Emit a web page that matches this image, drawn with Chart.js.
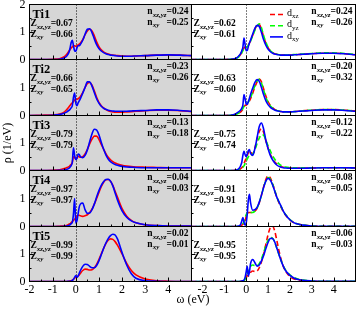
<!DOCTYPE html>
<html>
<head>
<meta charset="utf-8">
<script src="https://cdn.jsdelivr.net/npm/chart.js@4.4.1/dist/chart.umd.min.js"></script>
<style>
  html, body { margin: 0; padding: 0; background: #fff; }
  #wrap { position: relative; width: 356px; height: 311px; overflow: hidden; }
  #wrap canvas { position: absolute; left: 0; top: 0; }
</style>
</head>
<body>
<div id="wrap"></div>
<script>
// omega grid (eV), shared by every curve
const omega = [-2.5,-2,-1.5,-1,-0.7,-0.5,-0.4,-0.3,-0.25,-0.2,-0.15,-0.1,-0.05,0,0.05,0.1,0.15,0.2,0.3,0.4,
  0.5,0.6,0.7,0.8,0.9,1.0,1.1,1.2,1.3,1.4,1.5,1.6,1.7,1.8,2.0,2.2,2.4,2.6,3.0,3.5,4.0,4.5,5.0];
const xTicks = [-2, -1, 0, 1, 2, 3, 4];
const siteNames = ['Ti1', 'Ti2', 'Ti3', 'Ti4', 'Ti5'];

// left column: xz,yz (red) and xy (blue)
const ti1L_xzyz = [0,0,0,0.01,0.03,0.1,0.18,0.3,0.36,0.42,0.46,0.5,0.5,0.48,0.5,0.53,0.56,0.6,0.72,0.9,1.04,1.1,1.04,0.86,0.64,0.47,0.35,0.28,0.23,0.2,0.17,0.16,0.15,0.14,0.13,0.12,0.12,0.13,0.14,0.16,0.17,0.16,0.14];
const ti1L_xy   = [0,0,0,0,0.01,0.06,0.12,0.25,0.4,0.62,0.7,0.5,0.32,0.3,0.42,0.5,0.5,0.55,0.7,0.92,1.1,1.12,0.98,0.75,0.54,0.4,0.31,0.25,0.21,0.18,0.16,0.15,0.14,0.13,0.12,0.12,0.12,0.13,0.14,0.16,0.17,0.16,0.14];
const ti2L_xzyz = [0,0,0.01,0.02,0.05,0.12,0.2,0.3,0.36,0.41,0.45,0.5,0.55,0.57,0.58,0.6,0.63,0.68,0.82,1.0,1.14,1.18,1.08,0.88,0.65,0.47,0.35,0.27,0.21,0.17,0.14,0.13,0.12,0.12,0.12,0.13,0.14,0.15,0.17,0.19,0.19,0.17,0.14];
const ti2L_xy   = [0,0,0,0.01,0.03,0.08,0.12,0.18,0.22,0.27,0.35,0.65,0.8,0.45,0.35,0.45,0.52,0.6,0.8,1.0,1.2,1.2,1.05,0.82,0.6,0.44,0.33,0.26,0.22,0.19,0.17,0.16,0.15,0.15,0.15,0.15,0.16,0.17,0.18,0.2,0.2,0.18,0.15];
const ti3L_xzyz = [0,0,0,0.01,0.03,0.07,0.1,0.14,0.18,0.22,0.3,0.5,0.48,0.42,0.45,0.52,0.5,0.48,0.5,0.6,0.77,0.97,1.14,1.25,1.25,1.13,0.95,0.78,0.61,0.48,0.39,0.32,0.27,0.24,0.19,0.16,0.14,0.13,0.12,0.11,0.1,0.1,0.1];
const ti3L_xy   = [0,0,0,0,0.01,0.02,0.04,0.08,0.12,0.18,0.3,0.83,0.55,0.4,0.45,0.6,0.58,0.5,0.47,0.55,0.75,1.05,1.33,1.5,1.47,1.3,1.03,0.78,0.57,0.42,0.32,0.26,0.22,0.19,0.15,0.13,0.12,0.11,0.1,0.1,0.1,0.1,0.1];
const ti4L_xzyz = [0,0,0,0,0.01,0.02,0.04,0.08,0.1,0.14,0.18,0.22,0.26,0.3,0.36,0.4,0.4,0.38,0.36,0.38,0.42,0.5,0.62,0.8,1.0,1.22,1.42,1.58,1.67,1.68,1.62,1.47,1.26,1.05,0.64,0.37,0.22,0.13,0.06,0.03,0.02,0.02,0.02];
const ti4L_xy   = [0,0,0,0,0,0.01,0.02,0.04,0.06,0.1,0.15,0.45,1.0,0.12,0.2,0.45,0.7,0.8,0.84,0.6,0.47,0.48,0.6,0.8,1.05,1.28,1.47,1.6,1.68,1.69,1.62,1.45,1.2,0.95,0.56,0.33,0.2,0.13,0.06,0.03,0.02,0.02,0.02];
const ti5L_xzyz = [0,0,0,0,0,0,0,0.01,0.02,0.03,0.05,0.08,0.12,0.15,0.17,0.2,0.24,0.3,0.4,0.45,0.44,0.42,0.43,0.5,0.62,0.8,1.0,1.2,1.38,1.5,1.55,1.53,1.45,1.32,1.0,0.66,0.4,0.24,0.09,0.03,0.01,0,0];
const ti5L_xy   = [0,0,0,0,0,0,0,0.01,0.01,0.02,0.04,0.08,0.15,0.22,0.15,0.2,0.3,0.4,0.55,0.63,0.62,0.55,0.5,0.5,0.58,0.75,0.97,1.2,1.4,1.56,1.67,1.72,1.69,1.55,1.05,0.6,0.28,0.12,0.03,0.01,0,0,0];

// right column: d_xz (red), d_yz (green), d_xy (blue)
const ti1R_xz = [0,0,0,0,0.01,0.03,0.07,0.14,0.19,0.26,0.34,0.42,0.45,0.43,0.45,0.52,0.6,0.68,0.88,1.1,1.25,1.27,1.1,0.82,0.6,0.43,0.32,0.25,0.21,0.19,0.17,0.16,0.16,0.16,0.16,0.17,0.18,0.19,0.21,0.23,0.23,0.21,0.17];
const ti1R_yz = [0,0,0,0,0.01,0.03,0.06,0.12,0.17,0.24,0.32,0.4,0.44,0.44,0.46,0.52,0.59,0.67,0.86,1.07,1.22,1.3,1.15,0.86,0.63,0.45,0.33,0.26,0.22,0.19,0.17,0.16,0.16,0.16,0.17,0.18,0.19,0.2,0.22,0.24,0.24,0.22,0.18];
const ti1R_xy = [0,0,0,0,0.01,0.04,0.08,0.16,0.22,0.32,0.45,0.78,0.55,0.32,0.33,0.48,0.6,0.7,0.93,1.13,1.24,1.2,0.98,0.72,0.52,0.38,0.29,0.23,0.2,0.18,0.17,0.16,0.16,0.16,0.16,0.17,0.18,0.19,0.21,0.23,0.23,0.21,0.17];
const ti2R_xz = [0,0,0,0,0.01,0.03,0.06,0.1,0.13,0.17,0.22,0.3,0.36,0.38,0.4,0.45,0.52,0.6,0.8,1.02,1.2,1.3,1.2,0.95,0.7,0.5,0.37,0.28,0.22,0.18,0.16,0.14,0.13,0.13,0.13,0.14,0.15,0.17,0.19,0.21,0.21,0.19,0.16];
const ti2R_yz = [0,0,0,0,0.01,0.03,0.06,0.11,0.14,0.19,0.25,0.33,0.38,0.4,0.43,0.48,0.55,0.63,0.84,1.06,1.23,1.29,1.16,0.9,0.66,0.47,0.35,0.27,0.21,0.18,0.16,0.14,0.13,0.13,0.13,0.14,0.15,0.17,0.19,0.21,0.21,0.19,0.16];
const ti2R_xy = [0,0,0,0,0.01,0.05,0.1,0.16,0.2,0.26,0.38,0.75,0.6,0.42,0.4,0.5,0.62,0.75,0.98,1.18,1.28,1.22,1.0,0.74,0.53,0.39,0.3,0.24,0.2,0.17,0.15,0.14,0.13,0.13,0.13,0.14,0.15,0.16,0.18,0.2,0.2,0.18,0.15];
const ti3R_xz = [0,0,0,0,0,0.01,0.02,0.04,0.07,0.1,0.16,0.25,0.35,0.45,0.55,0.65,0.72,0.68,0.6,0.82,1.15,1.42,1.52,1.38,1.08,0.82,0.6,0.44,0.32,0.24,0.18,0.14,0.12,0.1,0.09,0.09,0.09,0.09,0.09,0.1,0.1,0.1,0.09];
const ti3R_yz = [0,0,0,0,0,0.01,0.02,0.03,0.05,0.08,0.12,0.17,0.25,0.33,0.42,0.5,0.55,0.55,0.6,0.75,0.98,1.18,1.3,1.28,1.1,0.9,0.72,0.55,0.42,0.32,0.24,0.18,0.15,0.13,0.11,0.1,0.1,0.1,0.1,0.1,0.1,0.1,0.09];
const ti3R_xy = [0,0,0,0,0,0.01,0.03,0.1,0.18,0.3,0.55,0.7,0.58,0.5,0.6,0.72,0.76,0.62,0.55,0.8,1.2,1.6,1.73,1.5,1.1,0.8,0.56,0.4,0.28,0.2,0.15,0.12,0.1,0.09,0.08,0.08,0.08,0.08,0.09,0.1,0.1,0.1,0.09];
const ti4R_xz = [0,0,0,0,0,0,0,0.01,0.02,0.05,0.08,0.12,0.2,0.35,0.45,0.5,0.5,0.5,0.5,0.55,0.65,0.85,1.12,1.42,1.68,1.81,1.74,1.55,1.3,1.05,0.85,0.68,0.53,0.41,0.24,0.13,0.08,0.05,0.02,0.01,0.01,0.01,0.01];
const ti4R_yz = [0,0,0,0,0,0,0,0.01,0.02,0.05,0.1,0.18,0.3,0.42,0.48,0.52,0.52,0.5,0.5,0.55,0.66,0.86,1.12,1.4,1.64,1.75,1.7,1.53,1.3,1.06,0.87,0.7,0.55,0.43,0.25,0.14,0.08,0.05,0.02,0.01,0.01,0.01,0.01];
const ti4R_xy = [0,0,0,0,0,0,0.01,0.03,0.08,0.2,0.32,0.15,0.05,0.12,0.45,0.95,1.15,0.85,0.58,0.6,0.68,0.87,1.12,1.4,1.62,1.72,1.66,1.5,1.28,1.05,0.88,0.72,0.55,0.42,0.24,0.13,0.08,0.05,0.02,0.01,0.01,0.01,0.01];
const ti5R_xz = [0,0,0,0,0,0,0,0,0,0.01,0.01,0.02,0.05,0.12,0.22,0.2,0.25,0.33,0.38,0.36,0.38,0.5,0.72,1.0,1.35,1.7,1.95,2.02,1.85,1.5,1.12,0.8,0.55,0.38,0.18,0.09,0.05,0.03,0.01,0,0,0,0];
const ti5R_yz = [0,0,0,0,0,0,0,0,0.01,0.02,0.02,0.03,0.08,0.2,0.3,0.35,0.45,0.55,0.6,0.58,0.58,0.65,0.82,1.05,1.3,1.5,1.6,1.58,1.45,1.22,0.98,0.76,0.57,0.42,0.24,0.14,0.08,0.05,0.02,0.01,0.01,0.01,0.01];
const ti5R_xy = [0,0,0,0,0,0,0,0,0.01,0.02,0.03,0.05,0.15,0.35,0.55,0.2,0.35,0.65,0.8,0.68,0.56,0.6,0.75,0.95,1.2,1.42,1.56,1.57,1.45,1.22,0.98,0.75,0.55,0.4,0.22,0.12,0.07,0.04,0.02,0.01,0.01,0.01,0.01];

// quasiparticle weights and occupations printed in each panel
const zXzYzLeft  = ['0.67', '0.66', '0.79', '0.97', '0.99'];
const zXyLeft    = ['0.66', '0.65', '0.79', '0.97', '0.99'];
const nXzYzLeft  = ['0.24', '0.23', '0.13', '0.04', '0.02'];
const nXyLeft    = ['0.25', '0.26', '0.18', '0.03', '0.01'];
const zXzYzRight = ['0.62', '0.63', '0.75', '0.91', '0.95'];
const zXyRight   = ['0.61', '0.60', '0.74', '0.91', '0.95'];
const nXzYzRight = ['0.24', '0.20', '0.12', '0.08', '0.06'];
const nXyRight   = ['0.26', '0.32', '0.22', '0.05', '0.03'];

const W = 356, H = 311;
const SERIF = '"Liberation Serif", "DejaVu Serif", serif';
const RED = '#ff0000', GREEN = '#00ff00', BLUE = '#0000ff';

const leftSeries = [[ti1L_xy, ti1L_xzyz], [ti2L_xy, ti2L_xzyz], [ti3L_xy, ti3L_xzyz], [ti4L_xy, ti4L_xzyz], [ti5L_xy, ti5L_xzyz]];
const rightSeries = [[ti1R_xy, ti1R_yz, ti1R_xz], [ti2R_xy, ti2R_yz, ti2R_xz], [ti3R_xy, ti3R_yz, ti3R_xz],
  [ti4R_xy, ti4R_yz, ti4R_xz], [ti5R_xy, ti5R_yz, ti5R_xz]];

function rowTop(i) { return Math.round(4 + 55.4 * i) + 0.5; }

function pts(arr) { return omega.map((w, i) => ({ x: w, y: arr[i] })); }

// text with a subscript, returns total width
function subText(ctx, x, y, main, sub, size, normal) {
  ctx.font = (normal ? '' : 'bold ') + size + 'px ' + SERIF;
  ctx.fillText(main, x, y);
  const w1 = ctx.measureText(main).width;
  ctx.font = (normal ? '' : 'italic bold ') + Math.round(size * 0.7) + 'px ' + SERIF;
  ctx.fillText(sub, x + w1, y + size * 0.3);
  return w1 + ctx.measureText(sub).width;
}

function makeDeco(p) {
  return {
    id: 'deco',
    beforeDraw(chart) {
      const a = chart.chartArea, ctx = chart.ctx;
      if (p.col === 0) {
        ctx.save();
        ctx.fillStyle = '#d6d6d6';
        ctx.fillRect(a.left, a.top, a.right - a.left, a.bottom - a.top);
        ctx.restore();
      }
    },
    beforeDatasetsDraw(chart) {
      const a = chart.chartArea, ctx = chart.ctx;
      const x = Math.round(chart.scales.x.getPixelForValue(0)) + 0.5;
      ctx.save();
      ctx.strokeStyle = '#000';
      ctx.lineWidth = 1;
      ctx.setLineDash([1, 2]);
      ctx.beginPath();
      ctx.moveTo(x, a.top);
      ctx.lineTo(x, a.bottom);
      ctx.stroke();
      ctx.restore();
    },
    afterDatasetsDraw(chart) {
      const a = chart.chartArea, ctx = chart.ctx;
      const sx = chart.scales.x, sy = chart.scales.y;
      ctx.save();
      ctx.strokeStyle = '#000';
      ctx.lineWidth = 1;
      ctx.beginPath();
      // inward ticks on the bottom edge
      for (let v = Math.ceil(p.xmin * 2) / 2; v < p.xmax; v += 0.5) {
        const x = Math.round(sx.getPixelForValue(v)) + 0.5;
        if (x <= a.left + 1 || x >= a.right - 1) continue;
        const len = Number.isInteger(v) ? 4 : 2;
        ctx.moveTo(x, a.bottom);
        ctx.lineTo(x, a.bottom - len);
      }
      // inward ticks on the left edge
      [0.5, 1, 1.5].forEach(v => {
        const y = Math.round(sy.getPixelForValue(v)) + 0.5;
        const len = Number.isInteger(v) ? 4 : 2;
        ctx.moveTo(a.left, y);
        ctx.lineTo(a.left + len, y);
      });
      ctx.stroke();
      ctx.strokeRect(a.left, a.top, a.right - a.left, a.bottom - a.top);

      ctx.fillStyle = '#000';
      ctx.textBaseline = 'middle';
      // y tick labels
      if (p.col === 0) {
        ctx.font = '12px ' + SERIF;
        ctx.textAlign = 'right';
        const ys = p.row === 0 ? [0, 1, 2] : [0, 1];
        ys.forEach(v => ctx.fillText(String(v), a.left - 4, sy.getPixelForValue(v)));
      }
      // x tick labels
      if (p.row === 4) {
        ctx.font = '12px ' + SERIF;
        ctx.textAlign = 'center';
        xTicks.forEach(v => ctx.fillText(String(v), sx.getPixelForValue(v), a.bottom + 8));
      }
      ctx.textAlign = 'left';
      // site name
      if (p.col === 0) {
        ctx.font = 'bold 12.5px ' + SERIF;
        ctx.fillText(siteNames[p.row], a.left + 3, a.top + 10);
      }
      // Z values
      const zx = a.left + (p.col === 0 ? 1 : 2);
      const wz = subText(ctx, zx, a.top + 19.5, 'Z', 'xz,yz', 9.5);
      ctx.font = 'bold 9.5px ' + SERIF;
      ctx.fillText('=' + p.z[0], zx + wz, a.top + 19.5);
      subText(ctx, zx, a.top + 30, 'Z', 'xy', 9.5);
      ctx.font = 'bold 9.5px ' + SERIF;
      ctx.fillText('=' + p.z[1], zx + wz, a.top + 30);
      // n values
      const right = a.right - 3;
      ctx.font = 'bold 9.5px ' + SERIF;
      const v1 = '=' + p.n[0], v2 = '=' + p.n[1];
      const wv = ctx.measureText(v1).width;
      ctx.font = 'bold 9.5px ' + SERIF;
      const wn = ctx.measureText('n').width;
      ctx.font = 'italic bold 7px ' + SERIF;
      const ws = ctx.measureText('xz,yz').width;
      const nx = right - wv - wn - ws;
      subText(ctx, nx, a.top + 7.5, 'n', 'xz,yz', 9.5);
      ctx.font = 'bold 9.5px ' + SERIF;
      ctx.textAlign = 'right';
      ctx.fillText(v1, right, a.top + 7.5);
      ctx.fillText(v2, right, a.top + 18);
      ctx.textAlign = 'left';
      subText(ctx, nx, a.top + 18, 'n', 'xy', 9.5);

      // legend in the first right panel
      if (p.col === 1 && p.row === 0) {
        const items = [['xz', RED, [5, 3]], ['yz', GREEN, [5, 3]], ['xy', BLUE, []]];
        items.forEach((it, k) => {
          const y = a.top + 10 + k * 11.2;
          ctx.strokeStyle = it[1];
          ctx.lineWidth = 1.6;
          ctx.setLineDash(it[2]);
          ctx.beginPath();
          ctx.moveTo(270, y);
          ctx.lineTo(283, y);
          ctx.stroke();
          ctx.setLineDash([]);
          ctx.fillStyle = '#000';
          subText(ctx, 287, y - 1, 'd', it[0], 10, true);
        });
      }

      // axis titles, drawn once
      if (p.col === 0 && p.row === 4) {
        ctx.fillStyle = '#000';
        ctx.font = '12px ' + SERIF;
        ctx.textAlign = 'center';
        ctx.fillText('\u03c9 (eV)', 193, 300);
        ctx.save();
        ctx.translate(8, 143);
        ctx.rotate(-Math.PI / 2);
        ctx.fillText('\u03c1 (1/eV)', 0, 0);
        ctx.restore();
      }
      ctx.restore();
    }
  };
}

const wrap = document.getElementById('wrap');
for (let col = 0; col < 2; col++) {
  for (let row = 0; row < 5; row++) {
    const p = {
      col, row,
      x0: col === 0 ? 29.5 : 191.5,
      x1: col === 0 ? 191.5 : 355.5,
      xmin: col === 0 ? -2 : -2.5,
      xmax: 5,
      top: rowTop(row),
      bottom: rowTop(row + 1),
      z: col === 0 ? [zXzYzLeft[row], zXyLeft[row]] : [zXzYzRight[row], zXyRight[row]],
      n: col === 0 ? [nXzYzLeft[row], nXyLeft[row]] : [nXzYzRight[row], nXyRight[row]]
    };
    let datasets;
    if (col === 0) {
      const s = leftSeries[row];
      datasets = [
        { data: pts(s[0]), borderColor: BLUE },
        { data: pts(s[1]), borderColor: RED }
      ];
    } else {
      const s = rightSeries[row];
      datasets = [
        { data: pts(s[0]), borderColor: BLUE },
        { data: pts(s[1]), borderColor: GREEN, borderDash: [5, 3], borderDashOffset: 4 },
        { data: pts(s[2]), borderColor: RED, borderDash: [5, 3] }
      ];
    }
    datasets.forEach(d => {
      d.borderWidth = 1.6;
      d.pointRadius = 0;
      d.fill = false;
      d.cubicInterpolationMode = 'monotone';
    });

    const canvas = document.createElement('canvas');
    canvas.width = W;
    canvas.height = H;
    wrap.appendChild(canvas);
    new Chart(canvas.getContext('2d'), {
      type: 'line',
      data: { datasets },
      options: {
        responsive: false,
        animation: false,
        events: [],
        layout: { padding: { left: p.x0, right: W - p.x1, top: p.top, bottom: H - p.bottom } },
        plugins: { legend: { display: false }, tooltip: { enabled: false } },
        scales: {
          x: { type: 'linear', min: p.xmin, max: p.xmax, display: false },
          y: { min: 0, max: 2, display: false }
        }
      },
      plugins: [makeDeco(p)]
    });
  }
}
</script>
</body>
</html>
